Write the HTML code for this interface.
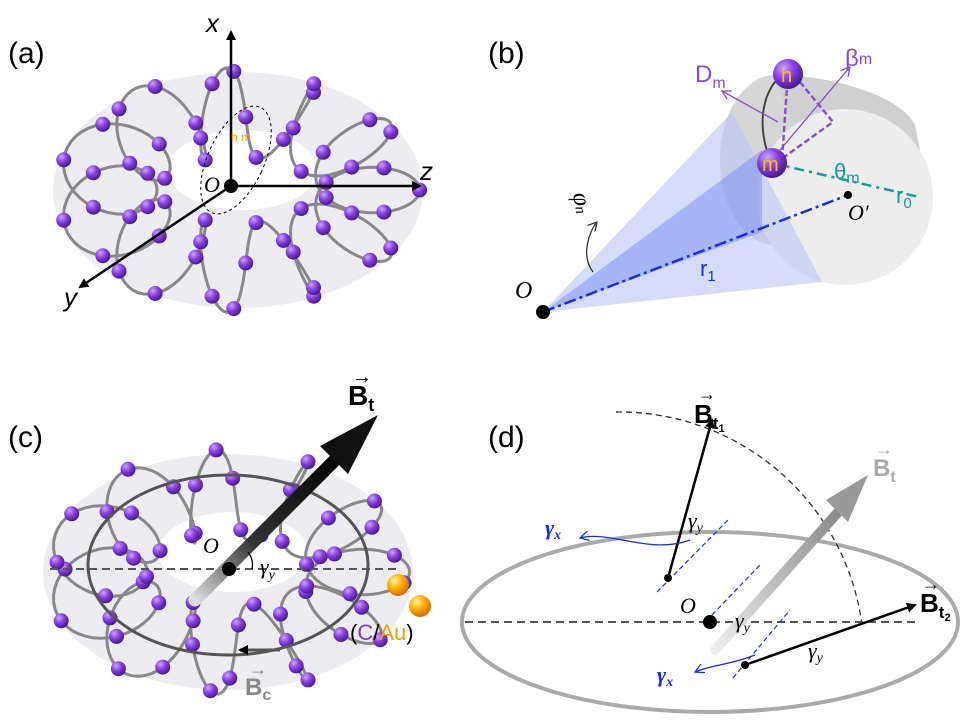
<!DOCTYPE html>
<html><head><meta charset="utf-8"><style>
body{margin:0;background:#fff}
svg{display:block;font-family:"Liberation Sans",sans-serif}
</style></head><body>
<svg id="s" width="971" height="727" viewBox="0 0 971 727" xmlns="http://www.w3.org/2000/svg">
<defs>
<radialGradient id="ball" cx="35%" cy="30%" r="70%"><stop offset="0" stop-color="#c9a4ff"/><stop offset="0.5" stop-color="#8a3fe0"/><stop offset="1" stop-color="#4c1a9a"/></radialGradient>
<radialGradient id="gold" cx="35%" cy="30%" r="70%"><stop offset="0" stop-color="#fff2a0"/><stop offset="0.5" stop-color="#ffb000"/><stop offset="1" stop-color="#d07000"/></radialGradient>
<linearGradient id="arr" x1="0" y1="1" x2="1" y2="0"><stop offset="0" stop-color="#ddd"/><stop offset="0.4" stop-color="#333"/><stop offset="1" stop-color="#000"/></linearGradient>
<linearGradient id="arrg" x1="0" y1="1" x2="1" y2="0"><stop offset="0" stop-color="#eee"/><stop offset="1" stop-color="#888"/></linearGradient>
<marker id="ah" markerWidth="10" markerHeight="10" refX="8" refY="5" orient="auto" markerUnits="userSpaceOnUse"><path d="M0,0 L10,5 L0,10 z" fill="#000"/></marker>
<marker id="ao" markerWidth="10" markerHeight="10" refX="9" refY="5" orient="auto" markerUnits="userSpaceOnUse"><path d="M0,0 L9,5 L0,10" fill="none" stroke="#8a4fcf" stroke-width="1.3"/></marker>
<marker id="ab" markerWidth="10" markerHeight="10" refX="9" refY="5" orient="auto" markerUnits="userSpaceOnUse"><path d="M0,0 L9,5 L0,10" fill="none" stroke="#1a2fe0" stroke-width="1.3"/></marker>
<marker id="ak" markerWidth="10" markerHeight="10" refX="9" refY="5" orient="auto" markerUnits="userSpaceOnUse"><path d="M0,0 L9,5 L0,10" fill="none" stroke="#333" stroke-width="1.3"/></marker>
</defs>
<rect width="971" height="727" fill="#fff"/>

<!-- panel a torus -->
<g id="ta"></g>
<text x="8" y="63" font-size="30">(a)</text>
<g stroke="#000" stroke-width="2.5" fill="none">
<line x1="231" y1="186" x2="231" y2="32" marker-end="url(#ah)"/>
<line x1="231" y1="186" x2="420" y2="186" marker-end="url(#ah)"/>
<line x1="231" y1="186" x2="80" y2="287" marker-end="url(#ah)"/>
</g>
<ellipse cx="236" cy="160" rx="28" ry="58" transform="rotate(25 236 160)" fill="none" stroke="#000" stroke-dasharray="3,3" stroke-width="1"/>
<circle cx="231" cy="186" r="7" fill="#000"/>
<text x="206" y="32" font-size="26" font-style="italic">x</text>
<text x="420" y="180" font-size="26" font-style="italic">z</text>
<text x="64" y="306" font-size="26" font-style="italic">y</text>
<text x="204" y="192" font-size="22" font-style="italic" font-family="Liberation Serif">O</text>
<text x="231" y="141" font-size="12" fill="#f0a000">h m</text>

<!-- panel b -->
<text x="488" y="63" font-size="30">(b)</text>
<ellipse cx="775" cy="160" rx="55" ry="85" fill="#d6d6d6"/>
<polygon points="775,75 845,109 845,285 775,245" fill="#d6d6d6"/>
<path d="M775,75 C830,75 900,95 915,125 L930,200 L845,285 z" fill="#d0d0d0"/>
<ellipse cx="845" cy="197" rx="88" ry="88" fill="#ededed"/>
<polygon points="543,312 732,112 822,282" fill="#b8c4f5" opacity="0.6"/>
<polygon points="543,312 762,150 762,232" fill="#6f86ef" opacity="0.45"/>
<line x1="543" y1="312" x2="848" y2="195" stroke="#1a2fe0" stroke-width="2.5" stroke-dasharray="12,4,3,4"/>
<line x1="772" y1="163" x2="925" y2="163" stroke="#1a9a9a" stroke-width="2.5" stroke-dasharray="10,5,3,5" transform="rotate(13 772 163)"/>
<path d="M785,72 C755,95 760,140 772,163" fill="none" stroke="#444" stroke-width="2"/>
<g stroke="#8a4fcf" stroke-width="2.5" stroke-dasharray="6,3" fill="none">
<line x1="788" y1="72" x2="782" y2="160"/><path d="M800,82 L833,122 L780,160"/>
</g>
<line x1="778" y1="122" x2="722" y2="91" stroke="#8a4fcf" stroke-width="1.3" marker-end="url(#ao)"/>
<line x1="780" y1="150" x2="850" y2="67" stroke="#8a4fcf" stroke-width="1.3" marker-end="url(#ao)"/>
<circle cx="788" cy="74" r="15" fill="url(#ball)"/>
<circle cx="772" cy="163" r="15" fill="url(#ball)"/>
<text x="781" y="82" font-size="20" fill="#ffc000">h</text>
<text x="762" y="171" font-size="20" fill="#ffc000">m</text>
<text x="695" y="82" font-size="24" fill="#8a4fcf">D<tspan font-size="16" dy="6">m</tspan></text>
<text x="845" y="66" font-size="24" fill="#8a4fcf">β<tspan font-size="16" dy="-2">m</tspan></text>
<text x="834" y="179" font-size="22" fill="#1a9a9a">θ<tspan font-size="16" dy="4">m</tspan></text>
<text x="896" y="203" font-size="22" fill="#1a9a9a">r<tspan font-size="15" dy="5">0</tspan></text>
<text x="700" y="276" font-size="22" fill="#1a2fe0">r<tspan font-size="15" dy="5">1</tspan></text>
<circle cx="848" cy="195" r="4" fill="#000"/>
<text x="848" y="220" font-size="22" font-style="italic" font-family="Liberation Serif">O′</text>
<circle cx="543" cy="312" r="7" fill="#000"/>
<text x="515" y="298" font-size="24" font-style="italic" font-family="Liberation Serif">O</text>
<path d="M593,272 C580,255 590,230 597,222" fill="none" stroke="#333" stroke-width="1.3" marker-end="url(#ak)"/>
<text x="572" y="215" font-size="24" font-style="italic" font-family="Liberation Serif" transform="rotate(80 585 205)">φ<tspan font-size="15">n</tspan></text>

<!-- panel c -->
<g id="tc"></g>
<text x="8" y="447" font-size="30">(c)</text>
<ellipse cx="228" cy="565" rx="140" ry="90" fill="none" stroke="#555" stroke-width="3"/>
<line x1="50" y1="569" x2="400" y2="569" stroke="#555" stroke-width="2" stroke-dasharray="8,5"/>
<line x1="195" y1="600" x2="340" y2="455" stroke="url(#arr)" stroke-width="13" stroke-linecap="round"/>
<polygon points="378,415 320,446 348,474" fill="#111"/>
<circle cx="229" cy="569" r="7" fill="#000"/>
<text x="203" y="553" font-size="22" font-style="italic" font-family="Liberation Serif">O</text>
<text x="260" y="574" font-size="22" font-style="italic" font-family="Liberation Serif">γ<tspan font-size="14" dy="5">y</tspan></text>
<path d="M248,552 Q254,560 252,569" fill="none" stroke="#000" stroke-width="1.3"/>
<text x="348" y="405" font-size="28" font-weight="bold">B<tspan font-size="18" dy="6">t</tspan></text>
<text x="352" y="383" font-size="20">→</text>
<text x="245" y="695" font-size="24" fill="#888" font-weight="bold">B<tspan font-size="16" dy="5">c</tspan></text>
<text x="249" y="675" font-size="18" fill="#888">→</text>
<line x1="280" y1="650" x2="240" y2="650" stroke="#555" stroke-width="3" marker-end="url(#ah)"/>
<circle cx="398" cy="585" r="11" fill="url(#gold)"/>
<circle cx="420" cy="606" r="11" fill="url(#gold)"/>
<text x="350" y="640" font-size="22">(<tspan fill="#7a3fc8">C</tspan>/<tspan fill="#f0a000">Au</tspan>)</text>

<!-- panel d -->
<text x="488" y="447" font-size="30">(d)</text>
<ellipse cx="710" cy="622" rx="248" ry="90" fill="none" stroke="#aaa" stroke-width="4"/>
<path d="M616,412 A245,245 0 0 1 862,625" fill="none" stroke="#333" stroke-width="1.3" stroke-dasharray="6,4"/>
<line x1="465" y1="622" x2="915" y2="622" stroke="#555" stroke-width="2" stroke-dasharray="8,5"/>
<line x1="715" y1="650" x2="840" y2="510" stroke="url(#arrg)" stroke-width="10" stroke-linecap="round"/>
<polygon points="868,475 826,500 848,522" fill="#999"/>
<line x1="668" y1="578" x2="712" y2="420" stroke="#000" stroke-width="2.5" marker-end="url(#ah)"/>
<line x1="745" y1="665" x2="915" y2="605" stroke="#000" stroke-width="2.5" marker-end="url(#ah)"/>
<line x1="657" y1="592" x2="728" y2="520" stroke="#1a2fe0" stroke-width="1.2" stroke-dasharray="5,3"/>
<line x1="733" y1="678" x2="790" y2="610" stroke="#1a2fe0" stroke-width="1.2" stroke-dasharray="5,3"/>
<line x1="712" y1="615" x2="760" y2="565" stroke="#1a2fe0" stroke-width="1.2" stroke-dasharray="5,3"/>
<circle cx="668" cy="578" r="4" fill="#000"/><circle cx="745" cy="665" r="4" fill="#000"/>
<circle cx="710" cy="622" r="7" fill="#000"/>
<path d="M690,540 C650,555 610,530 580,538" fill="none" stroke="#1a2fe0" stroke-width="1.3" marker-end="url(#ab)"/>
<path d="M755,655 C730,665 710,665 695,672" fill="none" stroke="#1a2fe0" stroke-width="1.3" marker-end="url(#ab)"/>
<text x="545" y="535" font-size="22" font-weight="bold" font-style="italic" fill="#1a2fe0" font-family="Liberation Serif">γ<tspan font-size="14" dy="4">x</tspan></text>
<text x="657" y="682" font-size="22" font-weight="bold" font-style="italic" fill="#1a2fe0" font-family="Liberation Serif">γ<tspan font-size="14" dy="4">x</tspan></text>
<text x="688" y="528" font-size="22" font-style="italic" font-family="Liberation Serif">γ<tspan font-size="14" dy="4">y</tspan></text>
<text x="735" y="628" font-size="22" font-style="italic" font-family="Liberation Serif">γ<tspan font-size="14" dy="4">y</tspan></text>
<text x="808" y="658" font-size="22" font-style="italic" font-family="Liberation Serif">γ<tspan font-size="14" dy="4">y</tspan></text>
<text x="680" y="613" font-size="22" font-style="italic" font-family="Liberation Serif">O</text>
<text x="694" y="423" font-size="26" font-weight="bold">B<tspan font-size="17" dy="6">t<tspan font-size="11" dy="3">1</tspan></tspan></text>
<text x="698" y="400" font-size="18">→</text>
<text x="873" y="476" font-size="24" font-weight="bold" fill="#aaa">B<tspan font-size="16" dy="6">t</tspan></text>
<text x="875" y="455" font-size="18" fill="#aaa">→</text>
<text x="920" y="612" font-size="26" font-weight="bold">B<tspan font-size="17" dy="6">t<tspan font-size="11" dy="3">2</tspan></tspan></text>
<text x="922" y="590" font-size="18">→</text>
</svg>
<script>
function torus(gid,cx,cy,seed){
 var g=document.getElementById(gid),h="";
 h+='<ellipse cx="'+cx+'" cy="'+cy+'" rx="185" ry="118" fill="#e9e9ee" opacity="0.8"/>';
 h+='<ellipse cx="'+(cx+5)+'" cy="'+(cy-20)+'" rx="75" ry="40" fill="#fff"/>';
 var pts=[],N=11,R=125,r=48;
 for(var i=0;i<=440;i++){var t=i/440*2*Math.PI+seed;
  var rr=R+r*Math.cos(N*t);pts.push([cx+rr*Math.cos(t)*1.05,cy+rr*Math.sin(t)*0.62-r*0.7*Math.sin(N*t)]);}
 var d="M"+pts.map(function(p){return p[0].toFixed(1)+","+p[1].toFixed(1)}).join(" L");
 h+='<path d="'+d+'" fill="none" stroke="#888" stroke-width="3"/>';
 for(var i=0;i<440;i+=8){h+='<circle cx="'+pts[i][0].toFixed(1)+'" cy="'+pts[i][1].toFixed(1)+'" r="7.5" fill="url(#ball)"/>';}
 g.innerHTML=h;
}
torus("ta",238,190,0);torus("tc",228,572,0.3);
</script>
</body></html>
